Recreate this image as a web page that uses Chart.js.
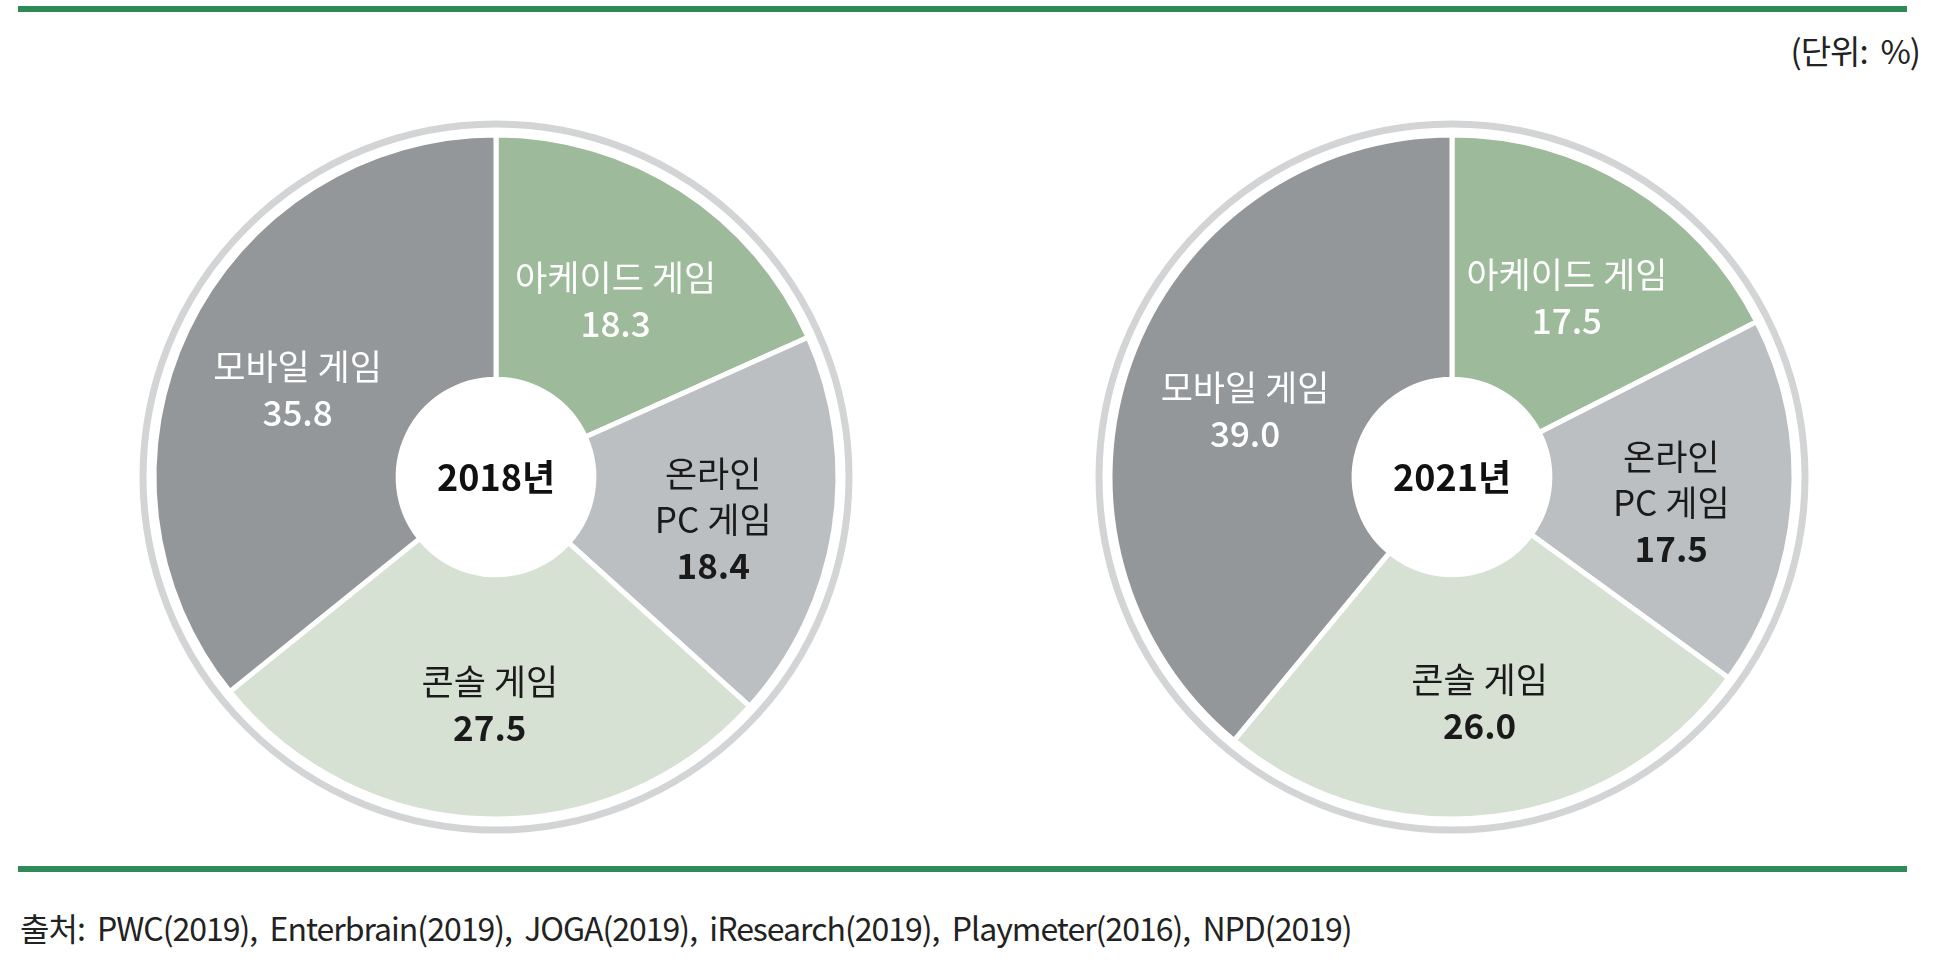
<!DOCTYPE html>
<html><head><meta charset="utf-8">
<script src="https://cdn.jsdelivr.net/npm/chart.js@4"></script>
<style>
body{margin:0;width:1942px;height:969px;background:#fff;position:relative;overflow:hidden;font-family:"Noto Sans CJK KR","Noto Sans",sans-serif;}
.line{position:absolute;left:18px;width:1889px;height:6px;background:#2e8b57;}
canvas{position:absolute;}
#unit{position:absolute;right:22px;top:26px;font-size:33px;color:#222;white-space:pre;letter-spacing:-1px;}
#src{position:absolute;left:20px;top:904px;font-size:32px;color:#222;white-space:pre;letter-spacing:-1px;}
</style></head><body>
<div class="line" style="top:6px"></div>
<div class="line" style="top:866px"></div>
<div id="unit">(단위:  %)</div>
<div id="src">출처:  PWC(2019),  Enterbrain(2019),  JOGA(2019),  iResearch(2019),  Playmeter(2016),  NPD(2019)</div>
<canvas id="c1" width="760" height="760" style="left:116px;top:97px;width:760px;height:760px"></canvas>
<canvas id="c2" width="760" height="760" style="left:1072px;top:97px;width:760px;height:760px"></canvas>
<script>
const categories = [["아케이드 게임"], ["온라인", "PC 게임"], ["콘솔 게임"], ["모바일 게임"]];
const years = ["2018년", "2021년"];
const values2018 = [18.3, 18.4, 27.5, 35.8];
const values2021 = [17.5, 17.5, 26.0, 39.0];
const colors = ["#9dba9a", "#bcbfc1", "#d6e0d3", "#939799"];
const textColors = ["#ffffff", "#1a1a1a", "#1a1a1a", "#ffffff"];
const valueBold = [false, true, true, false];

const ringPlugin = {
  id: 'ring',
  beforeDatasetsDraw(chart) {
    const m = chart.getDatasetMeta(0).data[0];
    const ctx = chart.ctx;
    ctx.save();
    ctx.beginPath();
    ctx.arc(m.x, m.y, m.outerRadius + 11, 0, Math.PI * 2);
    ctx.strokeStyle = "#d3d4d5";
    ctx.lineWidth = 7;
    ctx.stroke();
    ctx.restore();
  },
  afterDatasetsDraw(chart, args, opts) {
    const ctx = chart.ctx;
    const arcs = chart.getDatasetMeta(0).data;
    const ds = chart.data.datasets[0].data;
    ctx.save();
    ctx.textAlign = 'center';
    ctx.textBaseline = 'middle';
    arcs.forEach((a, i) => {
      const mid = (a.startAngle + a.endAngle) / 2;
      const r = (a.innerRadius + a.outerRadius) / 2;
      const x = a.x + Math.cos(mid) * r;
      const y = a.y + Math.sin(mid) * r + 8;
      const lines = chart.data.labels[i];
      const lh = 46;
      const total = lines.length + 1;
      const y0 = y - (total - 1) * lh / 2;
      ctx.fillStyle = textColors[i];
      ctx.font = '35px "Noto Sans CJK KR"';
      lines.forEach((t, k) => ctx.fillText(t, x, y0 + k * lh));
      ctx.font = (valueBold[i] ? 'bold ' : '500 ') + '35px "Noto Sans CJK KR"';
      ctx.fillText(ds[i].toFixed(1), x, y0 + lines.length * lh);
    });
    const a0 = arcs[0];
    ctx.fillStyle = '#111';
    ctx.font = 'bold 36px "Noto Sans CJK KR"';
    ctx.fillText(opts.center, a0.x, a0.y);
    ctx.restore();
  }
};

function make(id, vals, year) {
  new Chart(document.getElementById(id), {
    type: 'doughnut',
    data: { labels: categories, datasets: [{ data: vals, backgroundColor: colors, borderColor: '#ffffff', borderWidth: 5 }] },
    options: {
      responsive: false, animation: false, devicePixelRatio: 1,
      radius: 342, cutout: 108,
      plugins: { legend: { display: false }, tooltip: { enabled: false }, ring: { center: year } }
    },
    plugins: [ringPlugin]
  });
}
make('c1', values2018, years[0]);
make('c2', values2021, years[1]);
</script>
</body></html>
